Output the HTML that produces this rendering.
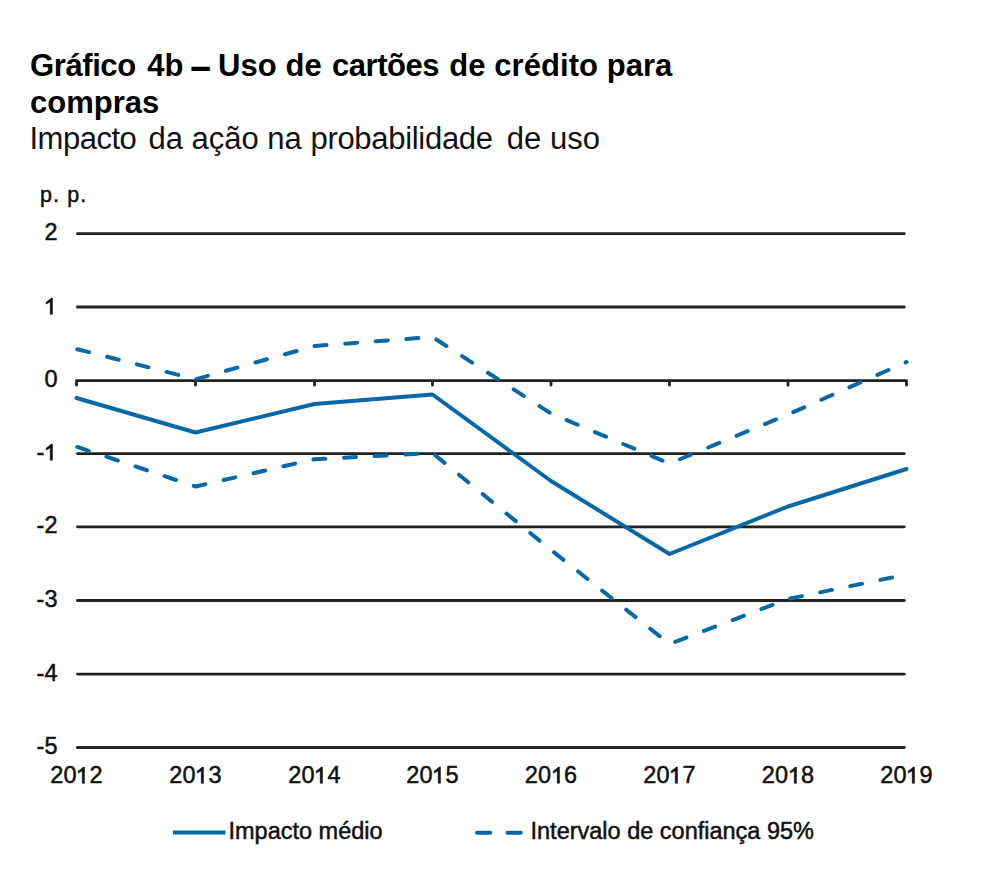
<!DOCTYPE html>
<html><head><meta charset="utf-8"><style>
html,body{margin:0;padding:0;background:#fff;width:984px;height:876px;overflow:hidden}
body{position:relative;font-family:"Liberation Sans",sans-serif;color:#000}
.t{position:absolute;white-space:pre;line-height:1}
.ax{position:absolute;white-space:pre;font-size:23.5px;line-height:27px;color:#111;-webkit-text-stroke:0.5px #111}
svg{position:absolute;left:0;top:0}
.one{position:relative;color:transparent;-webkit-text-stroke-color:transparent}
.one svg{position:absolute;left:0;top:0;width:0.556em;height:1.117em;overflow:visible}
</style></head><body>
<div style="position:absolute;left:0;top:0;width:984px;height:876px">
<div class="t" style="left:30px;top:50px;font-size:31px;font-weight:bold;letter-spacing:0.05px"><span style="letter-spacing:-0.4px">Gráfico</span> <span style="margin-left:2.8px">4b</span> <span style="display:inline-block;transform:scale(1.2,1.35)">–</span> Uso de <span style="margin-left:1.5px;letter-spacing:-0.45px">cartões</span> <span style="margin-left:1.6px">de crédito para</span></div>
<div class="t" style="left:30px;top:86.5px;font-size:31px;font-weight:bold">compras</div>
<div class="t" style="left:29.5px;top:123.3px;font-size:31px;color:#111"><span style="letter-spacing:-0.5px">Impacto</span> <span style="margin-left:3.5px">da ação na</span> <span style="letter-spacing:-0.3px">probabilidade</span> <span style="margin-left:5.5px">de uso</span></div>
<div class="ax" style="left:40px;top:182.2px;font-size:21.5px;letter-spacing:1.1px">p. p.</div>
<svg width="984" height="876" viewBox="0 0 984 876">
<line x1="77.4" y1="233.7" x2="904.3" y2="233.7" stroke="#222" stroke-width="2.8" stroke-linecap="round"/>
<line x1="77.4" y1="307" x2="904.3" y2="307" stroke="#222" stroke-width="2.8" stroke-linecap="round"/>
<line x1="77.4" y1="453.6" x2="904.3" y2="453.6" stroke="#222" stroke-width="2.8" stroke-linecap="round"/>
<line x1="77.4" y1="526.8" x2="904.3" y2="526.8" stroke="#222" stroke-width="2.8" stroke-linecap="round"/>
<line x1="77.4" y1="600.5" x2="904.3" y2="600.5" stroke="#222" stroke-width="2.8" stroke-linecap="round"/>
<line x1="77.4" y1="674.1" x2="904.3" y2="674.1" stroke="#222" stroke-width="2.8" stroke-linecap="round"/>
<line x1="77.4" y1="747.5" x2="904.3" y2="747.5" stroke="#222" stroke-width="2.8" stroke-linecap="round"/>
<path d="M76.5,385.2 L76.5,380.7 L906.5,380.7 L906.5,385.2 M195.5,380.7 L195.5,385.2 M314.5,380.7 L314.5,385.2 M432.5,380.7 L432.5,385.2 M551,380.7 L551,385.2 M669.5,380.7 L669.5,385.2 M788,380.7 L788,385.2" fill="none" stroke="#222" stroke-width="2.8" stroke-linecap="round" stroke-linejoin="round"/>
<polyline points="76.5,398 195.5,432.5 314.5,404 432.5,394.5 551,481 669.5,554 788,506.5 906.5,469" fill="none" stroke="#0669a6" stroke-width="4" stroke-linecap="round" stroke-linejoin="round"/>
<polyline points="76.5,349 195.5,379.3 314.5,346 432.5,337 551,413.5 669.5,463.5 788,414.5 906.5,362" fill="none" stroke="#0669a6" stroke-width="4" stroke-dasharray="12 18.7" stroke-dashoffset="-0.85" stroke-linecap="round" stroke-linejoin="round"/>
<polyline points="76.5,446.7 195.5,486.5 314.5,459.2 432.5,453 551,550 669.5,644 788,599 906.5,574.5" fill="none" stroke="#0669a6" stroke-width="4" stroke-dasharray="12 18.7" stroke-dashoffset="-0.85" stroke-linecap="round" stroke-linejoin="round"/>
<line x1="173" y1="832.6" x2="225.5" y2="832.6" stroke="#0669a6" stroke-width="4"/>
<line x1="477" y1="832.8" x2="490.3" y2="832.8" stroke="#0669a6" stroke-width="4" stroke-linecap="round"/>
<line x1="507.5" y1="832.8" x2="520.8" y2="832.8" stroke="#0669a6" stroke-width="4" stroke-linecap="round"/>
</svg>
<div class="ax" style="right:926.5px;top:219.2px;text-align:right">2</div>
<div class="ax" style="right:926.5px;top:292.5px;text-align:right"><span class="one">1<svg viewBox="0 -1854 1139 2288" preserveAspectRatio="none"><path d="M540,0 L740,0 L740,-1409 L615,-1409 Q530,-1270 190,-1060 L190,-890 Q400,-970 540,-1090 Z" fill="#111" stroke="#111" stroke-width="44"/></svg></span></div>
<div class="ax" style="right:926.5px;top:366.2px;text-align:right">0</div>
<div class="ax" style="right:926.5px;top:439.1px;text-align:right">-<span class="one">1<svg viewBox="0 -1854 1139 2288" preserveAspectRatio="none"><path d="M540,0 L740,0 L740,-1409 L615,-1409 Q530,-1270 190,-1060 L190,-890 Q400,-970 540,-1090 Z" fill="#111" stroke="#111" stroke-width="44"/></svg></span></div>
<div class="ax" style="right:926.5px;top:512.3px;text-align:right">-2</div>
<div class="ax" style="right:926.5px;top:586.0px;text-align:right">-3</div>
<div class="ax" style="right:926.5px;top:659.6px;text-align:right">-4</div>
<div class="ax" style="right:926.5px;top:733.0px;text-align:right">-5</div>
<div class="ax" style="left:16.5px;width:120px;top:762px;text-align:center">20<span class="one">1<svg viewBox="0 -1854 1139 2288" preserveAspectRatio="none"><path d="M540,0 L740,0 L740,-1409 L615,-1409 Q530,-1270 190,-1060 L190,-890 Q400,-970 540,-1090 Z" fill="#111" stroke="#111" stroke-width="44"/></svg></span>2</div>
<div class="ax" style="left:135.5px;width:120px;top:762px;text-align:center">20<span class="one">1<svg viewBox="0 -1854 1139 2288" preserveAspectRatio="none"><path d="M540,0 L740,0 L740,-1409 L615,-1409 Q530,-1270 190,-1060 L190,-890 Q400,-970 540,-1090 Z" fill="#111" stroke="#111" stroke-width="44"/></svg></span>3</div>
<div class="ax" style="left:254.5px;width:120px;top:762px;text-align:center">20<span class="one">1<svg viewBox="0 -1854 1139 2288" preserveAspectRatio="none"><path d="M540,0 L740,0 L740,-1409 L615,-1409 Q530,-1270 190,-1060 L190,-890 Q400,-970 540,-1090 Z" fill="#111" stroke="#111" stroke-width="44"/></svg></span>4</div>
<div class="ax" style="left:372.5px;width:120px;top:762px;text-align:center">20<span class="one">1<svg viewBox="0 -1854 1139 2288" preserveAspectRatio="none"><path d="M540,0 L740,0 L740,-1409 L615,-1409 Q530,-1270 190,-1060 L190,-890 Q400,-970 540,-1090 Z" fill="#111" stroke="#111" stroke-width="44"/></svg></span>5</div>
<div class="ax" style="left:491.0px;width:120px;top:762px;text-align:center">20<span class="one">1<svg viewBox="0 -1854 1139 2288" preserveAspectRatio="none"><path d="M540,0 L740,0 L740,-1409 L615,-1409 Q530,-1270 190,-1060 L190,-890 Q400,-970 540,-1090 Z" fill="#111" stroke="#111" stroke-width="44"/></svg></span>6</div>
<div class="ax" style="left:609.5px;width:120px;top:762px;text-align:center">20<span class="one">1<svg viewBox="0 -1854 1139 2288" preserveAspectRatio="none"><path d="M540,0 L740,0 L740,-1409 L615,-1409 Q530,-1270 190,-1060 L190,-890 Q400,-970 540,-1090 Z" fill="#111" stroke="#111" stroke-width="44"/></svg></span>7</div>
<div class="ax" style="left:728.0px;width:120px;top:762px;text-align:center">20<span class="one">1<svg viewBox="0 -1854 1139 2288" preserveAspectRatio="none"><path d="M540,0 L740,0 L740,-1409 L615,-1409 Q530,-1270 190,-1060 L190,-890 Q400,-970 540,-1090 Z" fill="#111" stroke="#111" stroke-width="44"/></svg></span>8</div>
<div class="ax" style="left:846.5px;width:120px;top:762px;text-align:center">20<span class="one">1<svg viewBox="0 -1854 1139 2288" preserveAspectRatio="none"><path d="M540,0 L740,0 L740,-1409 L615,-1409 Q530,-1270 190,-1060 L190,-890 Q400,-970 540,-1090 Z" fill="#111" stroke="#111" stroke-width="44"/></svg></span>9</div>
<div class="ax" style="left:228.5px;top:817.8px">Impacto médio</div>
<div class="ax" style="left:530.5px;top:817.8px">Intervalo de confiança 95%</div>
</div>
</body></html>
